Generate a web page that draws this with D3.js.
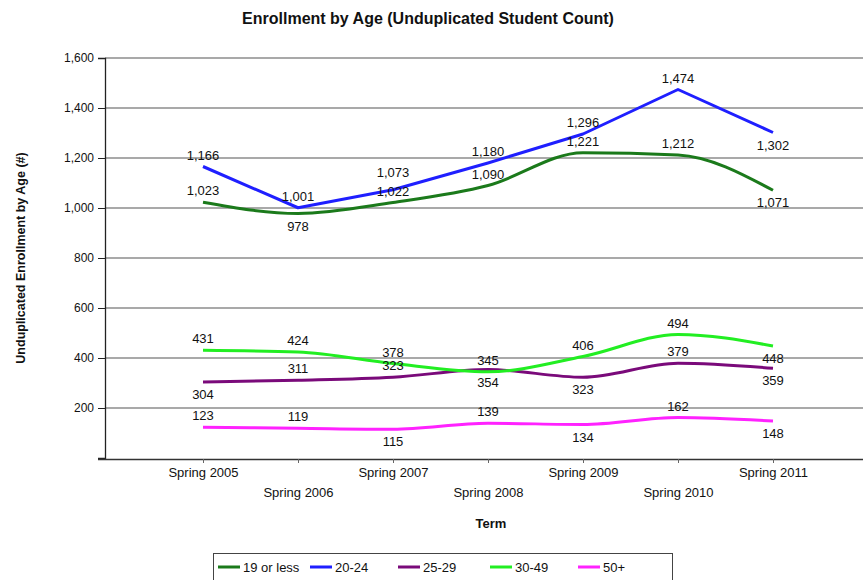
<!DOCTYPE html>
<html>
<head>
<meta charset="utf-8">
<script src="https://cdn.jsdelivr.net/npm/d3@7"></script>
<style>
  body { margin: 0; background: #fff; }
  text { font-family: "Liberation Sans", Arial, sans-serif; fill: #111; }
</style>
</head>
<body>
<svg width="863" height="580"></svg>
<script>
// Terms on the x axis
const terms = ["Spring 2005", "Spring 2006", "Spring 2007", "Spring 2008", "Spring 2009", "Spring 2010", "Spring 2011"];

// Age groups and their counts per term
const ageGroups = ["19 or less", "20-24", "25-29", "30-49", "50+"];
const age19orLess = [1023, 978, 1022, 1090, 1221, 1212, 1071];
const age20to24 = [1166, 1001, 1073, 1180, 1296, 1474, 1302];
const age25to29 = [304, 311, 323, 354, 323, 379, 359];
const age30to49 = [431, 424, 378, 345, 406, 494, 448];
const age50plus = [123, 119, 115, 139, 134, 162, 148];

const yTicks = [0, 200, 400, 600, 800, 1000, 1200, 1400, 1600];

const seriesValues = [age19orLess, age20to24, age25to29, age30to49, age50plus];
const colors = ["#1b7a1b", "#1f1fff", "#7a0a7a", "#22ee22", "#ff22ff"];

// where each data label sits: a = above, b = below, h = higher above (to clear a neighbour)
const labelPos = [
    "abaaaab",
    "aahaaab",
    "baabbab",
    "aaaaaab",
    "aababab"
];
const labelOffset = { a: -7, b: 17, h: -13 };

const svg = d3.select("svg");

const x = d3.scalePoint()
    .domain(terms)
    .range([108, 868])
    .padding(1);

const y = d3.scaleLinear()
    .domain([0, 1600])
    .range([458, 58]);

// Title
svg.append("text")
    .attr("x", 428)
    .attr("y", 24)
    .attr("text-anchor", "middle")
    .style("font-size", "16px")
    .style("font-weight", "bold")
    .text("Enrollment by Age (Unduplicated Student Count)");

// Gridlines
svg.append("g")
    .selectAll("line")
    .data(yTicks.filter(d => d > 0))
    .enter()
    .append("line")
    .attr("x1", 105)
    .attr("x2", 863)
    .attr("y1", d => y(d))
    .attr("y2", d => y(d))
    .attr("stroke", "#555")
    .attr("stroke-width", 1.2);

// Y axis
const yAxis = svg.append("g")
    .attr("transform", "translate(105,0)")
    .call(d3.axisLeft(y).tickValues(yTicks).tickSize(7).tickPadding(4).tickFormat(d => d === 0 ? "" : d3.format(",")(d)));
yAxis.select(".domain").attr("stroke", "#222").attr("stroke-width", 1.3);
yAxis.selectAll(".tick line").attr("stroke", "#222");
yAxis.selectAll(".tick text").style("font-size", "12px").attr("fill", "#333");

// X axis
const xAxis = svg.append("g")
    .attr("transform", "translate(0,459)")
    .call(d3.axisBottom(x).tickSize(4).tickSizeOuter(0).tickPadding(6));
xAxis.select(".domain").attr("d", "M98,0.5H863").attr("stroke", "#333").attr("stroke-width", 1.3);
xAxis.selectAll(".tick line").attr("stroke", "#666");
xAxis.selectAll(".tick text")
    .style("font-size", "13px")
    .attr("fill", "#222")
    .attr("dy", (d, i) => i % 2 === 0 ? "0.6em" : "2.15em");

// Axis titles
svg.append("text")
    .attr("x", 491)
    .attr("y", 528)
    .attr("text-anchor", "middle")
    .style("font-size", "13px")
    .style("font-weight", "bold")
    .text("Term");

svg.append("text")
    .attr("transform", "translate(25,258) rotate(-90)")
    .attr("text-anchor", "middle")
    .style("font-size", "12.5px")
    .style("font-weight", "bold")
    .text("Unduplicated Enrollment by Age (#)");

// Lines
const line = d3.line()
    .x((d, i) => x(terms[i]))
    .y(d => y(d));

seriesValues.forEach((vals, s) => {
    line.curve(s === 1 ? d3.curveLinear : d3.curveMonotoneX);
    svg.append("path")
        .attr("d", line(vals))
        .attr("fill", "none")
        .attr("stroke", colors[s])
        .attr("stroke-width", 3)
        .attr("stroke-linejoin", "round");
});

// Data labels
seriesValues.forEach((vals, s) => {
    svg.append("g")
        .selectAll("text")
        .data(vals)
        .enter()
        .append("text")
        .attr("x", (d, i) => x(terms[i]))
        .attr("y", (d, i) => y(d) + labelOffset[labelPos[s][i]])
        .attr("text-anchor", "middle")
        .style("font-size", "13px")
        .attr("fill", "#222")
        .text(d => d3.format(",")(d));
});

// Legend
const legend = svg.append("g").attr("transform", "translate(213,553)");
legend.append("rect")
    .attr("x", 0.5)
    .attr("y", 0.5)
    .attr("width", 459)
    .attr("height", 40)
    .attr("fill", "#fff")
    .attr("stroke", "#444");

const legendX = [5, 97, 185, 277, 365];
const items = legend.selectAll("g.item")
    .data(ageGroups)
    .enter()
    .append("g")
    .attr("class", "item")
    .attr("transform", (d, i) => `translate(${legendX[i]},14)`);

items.append("line")
    .attr("x1", 0)
    .attr("x2", 22)
    .attr("stroke", (d, i) => colors[i])
    .attr("stroke-width", 3);

items.append("text")
    .attr("x", 25)
    .attr("y", 4.5)
    .style("font-size", "13px")
    .attr("fill", "#222")
    .text(d => d);
</script>
</body>
</html>
